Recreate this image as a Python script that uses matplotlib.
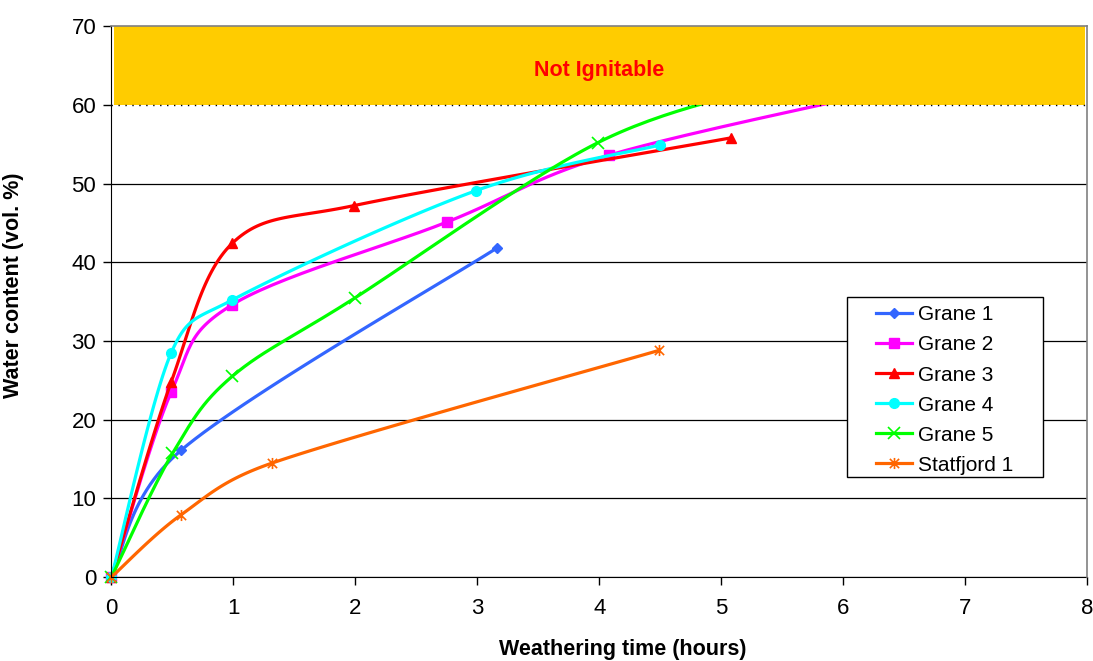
import numpy as np
import matplotlib
matplotlib.use("Agg")
import matplotlib.pyplot as plt
from matplotlib.path import Path
from matplotlib.patches import Rectangle

plt.rcParams["font.family"] = ["Liberation Sans", "DejaVu Sans"]

# weathering time (hours) / water content (vol. %)
# the last point of Grane 2 and Grane 5 lies under the "Not Ignitable" band
grane1_t = [0, 0.57, 3.16]
grane1_w = [0, 16.1, 41.8]
grane2_t = [0, 0.49, 0.99, 2.75, 4.08, 6.5]
grane2_w = [0, 23.5, 34.6, 45.1, 53.6, 62.3]
grane3_t = [0, 0.49, 0.99, 1.99, 5.08]
grane3_w = [0, 24.8, 42.4, 47.2, 55.8]
grane4_t = [0, 0.49, 0.99, 2.99, 4.5]
grane4_w = [0, 28.5, 35.2, 49.1, 54.9]
grane5_t = [0, 0.5, 0.99, 2.0, 3.99, 5.5]
grane5_w = [0, 15.7, 25.5, 35.5, 55.2, 62.8]
statf_t = [0, 0.57, 1.32, 4.49]
statf_w = [0, 7.9, 14.5, 28.8]

series = [
    ("Grane 1", grane1_t, grane1_w, "#3366FF", "D", 5),
    ("Grane 2", grane2_t, grane2_w, "#FF00FF", "s", 6.5),
    ("Grane 3", grane3_t, grane3_w, "#FF0000", "^", 7),
    ("Grane 4", grane4_t, grane4_w, "#00FFFF", "o", 7),
    ("Grane 5", grane5_t, grane5_w, "#00FF00", "x", 8),
    ("Statfjord 1", statf_t, statf_w, "#FF6600", "star", 8),
]

STAR = Path([(-1, -1), (1, 1), (-1, 1), (1, -1), (0, -1.2), (0, 1.2)],
            [Path.MOVETO, Path.LINETO, Path.MOVETO, Path.LINETO, Path.MOVETO, Path.LINETO])

# pixels per data unit, the smoothing is worked out on screen like excel does
PX_X, PX_Y = 121.9, 7.87


def smooth(xs, ys, n=30):
    # excel "smoothed line": bezier segments, tangent 1/6 of the chord,
    # capped to half of the segment length
    p = np.column_stack([np.asarray(xs) * PX_X, np.asarray(ys) * PX_Y]).astype(float)
    out = []
    for i in range(len(p) - 1):
        p0 = p[i - 1] if i > 0 else p[i]
        p1, p2 = p[i], p[i + 1]
        p3 = p[i + 2] if i + 2 < len(p) else p[i + 1]
        d12 = np.hypot(*(p2 - p1))
        d02 = np.hypot(*(p2 - p0))
        d13 = np.hypot(*(p3 - p1))
        f1 = 1 / 6 if d02 / 6 < d12 / 2 else d12 / (2 * d02)
        f2 = 1 / 6 if d13 / 6 < d12 / 2 else d12 / (2 * d13)
        c1 = p1 + (p2 - p0) * f1
        c2 = p2 - (p3 - p1) * f2
        t = np.linspace(0, 1, n, endpoint=False)[:, None]
        out.append((1 - t) ** 3 * p1 + 3 * (1 - t) ** 2 * t * c1
                   + 3 * (1 - t) * t ** 2 * c2 + t ** 3 * p2)
    out.append(p[-1:])
    c = np.vstack(out)
    return c[:, 0] / PX_X, c[:, 1] / PX_Y, [i * n for i in range(len(p))]


fig = plt.figure(figsize=(10.93, 6.61), dpi=100)
ax = fig.add_axes([0.102, 0.127, 0.8925, 0.8335])

for label, t, w, col, mk, ms in series:
    sx, sy, idx = smooth(t, w)
    marker = STAR if mk == "star" else mk
    filled = mk not in ("x", "star")
    ax.plot(sx, sy, color=col, lw=2.3, marker=marker, markevery=idx, ms=ms,
            mfc=col if filled else "none", mec=col, mew=1.2 if not filled else 1,
            label=label, clip_on=False, zorder=2)

# not ignitable band
ax.add_patch(Rectangle((0.02, 60), 7.96, 10, facecolor="#FFCC00", edgecolor="none", zorder=3))
ax.axhline(60, color="black", lw=1, dashes=[1, 4], zorder=3.5)
ax.text(4.0, 64.4, "Not Ignitable", color="#FF0000", fontsize=15.5, fontweight="bold",
        ha="center", va="center", zorder=4)

ax.set_xlim(0, 8)
ax.set_ylim(0, 70)
ax.set_xticks(range(0, 9))
ax.set_yticks(range(0, 71, 10))
ax.set_axisbelow(True)
ax.yaxis.grid(True, color="black", lw=0.9)
for g in ax.yaxis.get_gridlines()[-2:]:
    g.set_visible(False)
ax.tick_params(axis="both", direction="out", length=6, width=1, labelsize=16)
ax.tick_params(axis="x", pad=9)
ax.tick_params(axis="y", pad=5)
for s in ("left", "bottom"):
    ax.spines[s].set_color("black")
for s in ("top", "right"):
    ax.spines[s].set_color("#808080")
    ax.spines[s].set_linewidth(1.2)
    ax.spines[s].set_zorder(5)

ax.set_xlabel("Weathering time (hours)", fontsize=15.5, fontweight="bold")
ax.set_ylabel("Water content (vol. %)", fontsize=15.5, fontweight="bold")
ax.xaxis.set_label_coords(0.524, -0.113)
ax.yaxis.set_label_coords(-0.09, 0.53)

# legend box drawn separately so the padding matches
ax.add_patch(Rectangle((0.754, 0.181), 0.201, 0.327, transform=ax.transAxes,
                       facecolor="white", edgecolor="black", lw=1, zorder=6))
leg = ax.legend(loc="upper left", bbox_to_anchor=(0.784, 0.493), frameon=False, fontsize=15,
                borderpad=0, borderaxespad=0, handlelength=1.73, handletextpad=0.28,
                labelspacing=0.53)
leg.set_zorder(7)

fig.savefig("out.png", dpi=100)
